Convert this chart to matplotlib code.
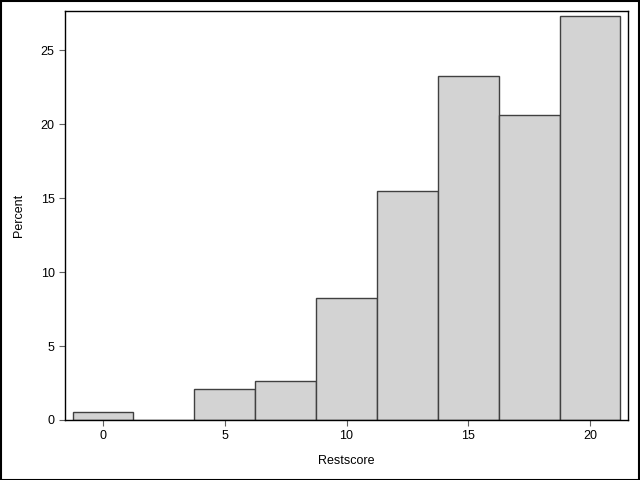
import matplotlib
matplotlib.use('Agg')
import matplotlib.pyplot as plt

# Histogramm-Daten (Bin-Mitten und Prozent)
centers = [0, 2.5, 5, 7.5, 10, 12.5, 15, 17.5, 20]
percent = [0.54, 0, 2.09, 2.63, 8.24, 15.47, 23.24, 20.6, 27.3]
width = 2.5

plt.rcParams['font.family'] = ['Liberation Sans', 'DejaVu Sans']

fig = plt.figure(figsize=(6.4, 4.8), dpi=100)
ax = fig.add_axes([65/640, 1-420/480, (628-65)/640, (420-11)/480])

ax.bar(centers, percent, width=width, color='#D3D3D3', edgecolor='#404040', linewidth=1)

ax.set_xlim(-1.56, 21.56)
ax.set_ylim(0, 27.64)
ax.set_xticks([0, 5, 10, 15, 20])
ax.set_yticks([0, 5, 10, 15, 20, 25])
ax.tick_params(direction='out', length=4, color='#606060', labelsize=9)
ax.set_xlabel('Restscore', fontsize=9)
ax.set_ylabel('Percent', fontsize=9)
ax.xaxis.set_label_coords(0.5, -0.086)
ax.yaxis.set_label_coords(-0.071, 0.5)
for s in ax.spines.values():
    s.set_linewidth(1)

# Rahmen um die ganze Grafik
fig.patches.append(plt.Rectangle((0.001, 0.001), 0.997, 0.997, transform=fig.transFigure,
                                 fill=False, edgecolor='black', linewidth=1.5))

fig.savefig('out.png', dpi=100)
